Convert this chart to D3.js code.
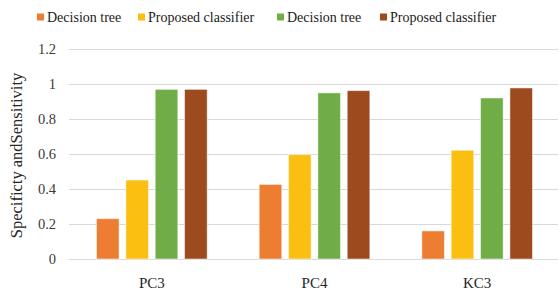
<!DOCTYPE html>
<html><head><meta charset="utf-8">
<script src="https://cdn.jsdelivr.net/npm/d3@7"></script>
<style>body{margin:0;background:#fff}svg{display:block}</style>
</head><body>
<svg id="c" width="560" height="292"></svg>
<script>
const categories = ["PC3", "PC4", "KC3"];
const seriesNames = ["Decision tree", "Proposed classifier", "Decision tree", "Proposed classifier"];
const seriesColors = ["#ED7D31", "#FBBF11", "#70AD47", "#9E4A1F"];
const values = [
  [0.23, 0.425, 0.16],
  [0.45, 0.595, 0.62],
  [0.967, 0.947, 0.918],
  [0.967, 0.96, 0.975]
];
const yTicks = [0, 0.2, 0.4, 0.6, 0.8, 1, 1.2];
const yTitle = "Specificty andSensitivity";

const FONT = '"Liberation Serif"';
const svg = d3.select("#c");
const x0 = d3.scaleBand().domain(categories).range([70.5, 558.5]).paddingInner(0).paddingOuter(0);
const x1 = d3.scaleBand().domain(d3.range(seriesNames.length)).range([26, x0.bandwidth() - 26]).paddingInner(0.23);
const y = d3.scaleLinear().domain([0, 1.2]).range([259, 48.5]);

svg.append("g").selectAll("line").data(yTicks).join("line")
  .attr("x1", 69).attr("x2", 558)
  .attr("y1", d => Math.round(y(d)) + 0.5).attr("y2", d => Math.round(y(d)) + 0.5)
  .attr("stroke", "#d9d9d9").attr("stroke-width", 1);

svg.append("g").selectAll("text").data(yTicks).join("text")
  .attr("x", 56).attr("y", d => y(d)).attr("dy", "0.35em")
  .attr("text-anchor", "end").style("font-family", FONT).style("font-size", "14.5px")
  .attr("fill", "#3a3a3a").text(d => d);

const g = svg.append("g");
seriesNames.forEach((s, i) => {
  g.append("g").selectAll("rect").data(values[i]).join("rect")
    .attr("x", (d, j) => x0(categories[j]) + x1(i))
    .attr("width", x1.bandwidth())
    .attr("y", d => y(d))
    .attr("height", d => y(0) - y(d))
    .attr("fill", seriesColors[i])
    .attr("stroke", "#fff").attr("stroke-opacity", 0.5).attr("stroke-width", 1);
});

svg.append("g").selectAll("text").data(categories).join("text")
  .attr("x", d => x0(d) + x0.bandwidth() / 2).attr("y", 288)
  .attr("text-anchor", "middle").style("font-family", FONT).style("font-size", "15px")
  .attr("fill", "#262626").text(d => d);

svg.append("text")
  .attr("transform", "translate(22,155.5) rotate(-90)")
  .attr("text-anchor", "middle").style("font-family", FONT).style("font-size", "16.5px")
  .attr("fill", "#262626").text(yTitle);

const legendX = [37, 138, 277, 380];
const lg = svg.append("g");
seriesNames.forEach((s, i) => {
  lg.append("rect").attr("x", legendX[i]).attr("y", 13.5).attr("width", 7).attr("height", 7)
    .attr("fill", seriesColors[i]);
  lg.append("text").attr("x", legendX[i] + 10).attr("y", 17).attr("dy", "0.35em")
    .style("font-family", FONT).style("font-size", "14px").attr("fill", "#1a1a1a").text(s);
});
</script>
</body></html>
